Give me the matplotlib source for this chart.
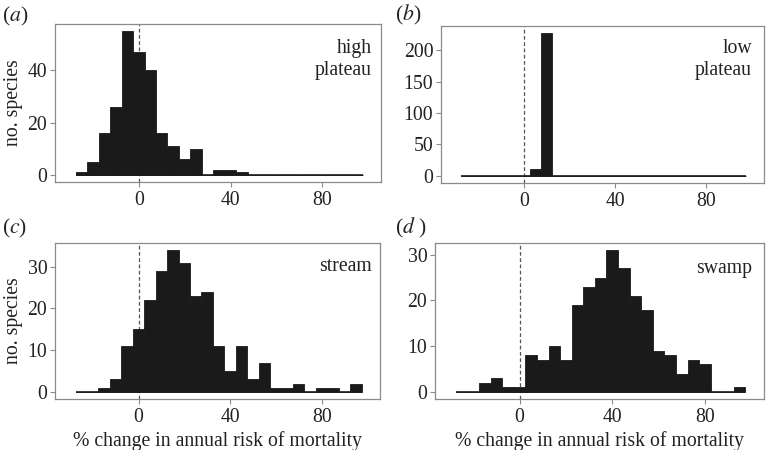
import numpy as np
import matplotlib
matplotlib.use("Agg")
import matplotlib.pyplot as plt

# bin edges: -27.5 .. 97.5 step 5 (25 bins)
bin_start = -27.5
bin_width = 5.0
n_bins = 25

counts_high_plateau = [1, 5, 16, 26, 55, 47, 40, 16, 11, 6, 10, 0, 2, 2, 1,
                       0, 0, 0, 0, 0, 0, 0, 0, 0, 0]
counts_low_plateau = [0, 0, 0, 0, 0, 0, 11, 227, 0, 0, 0, 0, 0, 0, 0,
                      0, 0, 0, 0, 0, 0, 0, 0, 0, 0]
counts_stream = [0, 0, 1, 3, 11, 15, 22, 29, 34, 31, 23, 24, 11, 5, 11,
                 3, 7, 1, 1, 2, 0, 1, 1, 0, 2]
counts_swamp = [0, 0, 2, 3, 1, 1, 8, 7, 10, 7, 19, 23, 25, 31, 27,
                21, 18, 9, 8, 4, 7, 6, 0, 0, 1]

panel_labels = [r"($\mathit{a}$)", r"($\mathit{b}$)", r"($\mathit{c}$)", r"($\mathit{d}$ )"]
habitat_labels = ["high\nplateau", "low\nplateau", "stream", "swamp"]
yticks = [[0, 20, 40], [0, 50, 100, 150, 200], [0, 10, 20, 30], [0, 10, 20, 30]]
xticks = [0, 40, 80]
xlabel = "% change in annual risk of mortality"
ylabel = "no. species"

plt.rcParams['font.family'] = ['Liberation Serif', 'DejaVu Serif']
plt.rcParams['mathtext.fontset'] = 'stix'

W, H = 766, 450
fig = plt.figure(figsize=(W / 100, H / 100), dpi=100)

# axes boxes in pixels: left, top, right, bottom
boxes = [(55, 24, 381, 182), (441, 26, 764, 183),
         (55, 243, 380, 399), (435, 243, 764, 399)]
data = [counts_high_plateau, counts_low_plateau, counts_stream, counts_swamp]
label_pos = [(2, 16), (395, 15), (2, 228), (395, 228)]
txt_pos = [(372, 39), (752, 39), (372, 257), (752, 259)]

edges = bin_start + bin_width * np.arange(n_bins + 1)
fs = 14.2
frame_col = "#8a8a8a"
bar_col = "#1a1a1a"

for i, (l, t, r, b) in enumerate(boxes):
    ax = fig.add_axes([l / W, 1 - b / H, (r - l) / W, (b - t) / H])
    c = np.array(data[i])
    ax.axvline(0, color="#555555", linestyle=(0, (3, 2)), linewidth=0.9, zorder=1)
    ax.bar(edges[:-1], c, width=bin_width, align="edge", color=bar_col,
           edgecolor=bar_col, linewidth=0.6, zorder=2)
    ax.hlines(0, edges[0], edges[-1], color=bar_col, linewidth=1.2, zorder=3)
    ymax = c.max()
    ax.set_ylim(-0.05 * ymax, 1.05 * ymax)
    ax.set_xlim(-36.5, 105.5)
    ax.set_xticks(xticks)
    ax.set_yticks(yticks[i])
    ax.tick_params(axis="both", length=3.5, width=0.8, color=frame_col,
                   labelsize=fs, labelcolor="#222222")
    ax.tick_params(axis="x", pad=3)
    ax.tick_params(axis="y", pad=2)
    for s in ax.spines.values():
        s.set_color(frame_col)
        s.set_linewidth(0.9)
    if i >= 2:
        ax.set_xlabel(xlabel, fontsize=fs, color="#222222", labelpad=3)
    if i % 2 == 0:
        ax.set_ylabel(ylabel, fontsize=fs, color="#222222", labelpad=3)
    fig.text(label_pos[i][0] / W, 1 - label_pos[i][1] / H, panel_labels[i],
             fontsize=fs + 1.5, ha="left", va="center", color="#222222")
    fig.text(txt_pos[i][0] / W, 1 - txt_pos[i][1] / H, habitat_labels[i],
             fontsize=fs, ha="right", va="top", color="#222222", linespacing=1.2)

fig.savefig("out.png", dpi=100)
